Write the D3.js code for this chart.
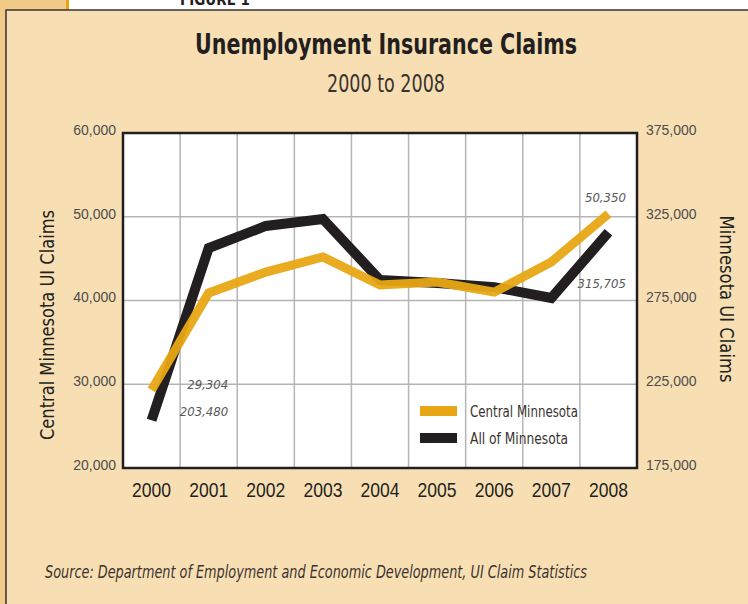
<!DOCTYPE html>
<html>
<head>
<meta charset="utf-8">
<script src="https://cdn.jsdelivr.net/npm/d3@7"></script>
<style>
  body { margin: 0; background: #fff; }
  svg { display: block; font-family: "DejaVu Sans Condensed", "DejaVu Sans", sans-serif; font-stretch: condensed; }
  .tick-label { fill: #4d4d4d; font-size: 14px; }
  .year-label { fill: #231f20; font-size: 21px; }
  .note { fill: #595959; font-size: 13px; font-style: italic; }
</style>
</head>
<body>
<div id="chart"></div>
<script>
const years = ["2000", "2001", "2002", "2003", "2004", "2005", "2006", "2007", "2008"];
const centralMN = [29304, 40900, 43400, 45200, 41850, 42200, 41000, 44600, 50350];
const allMN = [203480, 306300, 319500, 323700, 287200, 285400, 283000, 276500, 315705];
const leftTicks = [20000, 30000, 40000, 50000, 60000];
const rightTicks = [175000, 225000, 275000, 325000, 375000];

function renderClaims(selector) {
    const W = 748, H = 604;
    const plot = {left: 123, right: 637, top: 133, bottom: 468};

    const svg = d3.select(selector).append("svg")
        .attr("width", W)
        .attr("height", H);

    // page frame
    svg.append("rect").attr("width", W).attr("height", H).attr("fill", "#fff");
    svg.append("rect").attr("x", 0).attr("y", 0).attr("width", 66).attr("height", H).attr("fill", "#f3cb88");
    svg.append("rect").attr("x", 66).attr("y", 0).attr("width", 3).attr("height", 10).attr("fill", "#e8a317");
    svg.append("text")
        .attr("x", 215).attr("y", 5)
        .attr("text-anchor", "middle")
        .attr("fill", "#231f20")
        .style("font-size", "15px")
        .style("font-weight", "bold")
        .text("FIGURE 1");
    svg.append("rect")
        .attr("x", 6).attr("y", 10)
        .attr("width", W).attr("height", H)
        .attr("fill", "#f8dfb3")
        .attr("stroke", "#3a3330")
        .attr("stroke-width", 1.5);

    // titles
    svg.append("text")
        .attr("x", 386).attr("y", 54)
        .attr("text-anchor", "middle")
        .attr("fill", "#231f20")
        .attr("textLength", 382)
        .attr("lengthAdjust", "spacingAndGlyphs")
        .style("font-size", "28px")
        .style("font-weight", "bold")
        .text("Unemployment Insurance Claims");
    svg.append("text")
        .attr("x", 386).attr("y", 92)
        .attr("text-anchor", "middle")
        .attr("fill", "#3a3330")
        .attr("textLength", 118)
        .attr("lengthAdjust", "spacingAndGlyphs")
        .style("font-size", "25px")
        .text("2000 to 2008");

    const x = d3.scaleBand()
        .domain(years)
        .range([plot.left, plot.right])
        .padding(0);

    const yLeft = d3.scaleLinear()
        .domain([20000, 60000])
        .range([plot.bottom, plot.top]);

    const yRight = d3.scaleLinear()
        .domain([175000, 375000])
        .range([plot.bottom, plot.top]);

    svg.append("rect")
        .attr("x", plot.left).attr("y", plot.top)
        .attr("width", plot.right - plot.left)
        .attr("height", plot.bottom - plot.top)
        .attr("fill", "#fff");

    // grid
    svg.append("g")
        .selectAll("line")
        .data(leftTicks.slice(1, -1))
        .enter()
        .append("line")
        .attr("x1", plot.left).attr("x2", plot.right)
        .attr("y1", d => yLeft(d)).attr("y2", d => yLeft(d))
        .attr("stroke", "#b5b5b5")
        .attr("stroke-width", 1.5);

    svg.append("g")
        .selectAll("line")
        .data(years.slice(1))
        .enter()
        .append("line")
        .attr("x1", d => x(d)).attr("x2", d => x(d))
        .attr("y1", plot.top).attr("y2", plot.bottom)
        .attr("stroke", "#b5b5b5")
        .attr("stroke-width", 1.5);

    // axes
    const axisLeft = svg.append("g")
        .attr("transform", `translate(${plot.left - 4}, 0)`)
        .call(d3.axisLeft(yLeft).tickValues(leftTicks).tickSize(0).tickFormat(d3.format(",")));
    axisLeft.select(".domain").remove();
    axisLeft.selectAll("text").attr("class", "tick-label").attr("fill", null).attr("dy", "0.1em");

    const axisRight = svg.append("g")
        .attr("transform", `translate(${plot.right + 6}, 0)`)
        .call(d3.axisRight(yRight).tickValues(rightTicks).tickSize(0).tickFormat(d3.format(",")));
    axisRight.select(".domain").remove();
    axisRight.selectAll("text").attr("class", "tick-label").attr("fill", null).attr("dy", "0.1em");

    const axisBottom = svg.append("g")
        .attr("transform", `translate(0, ${plot.bottom + 6})`)
        .call(d3.axisBottom(x).tickSize(0));
    axisBottom.select(".domain").remove();
    axisBottom.selectAll("text")
        .attr("class", "year-label")
        .attr("fill", null)
        .attr("dy", "0.95em")
        .attr("textLength", 39)
        .attr("lengthAdjust", "spacingAndGlyphs");

    // lines
    const lineLeft = d3.line()
        .x((d, i) => x(years[i]) + x.bandwidth() / 2)
        .y(d => yLeft(d));
    const lineRight = d3.line()
        .x((d, i) => x(years[i]) + x.bandwidth() / 2)
        .y(d => yRight(d));

    svg.append("path")
        .datum(allMN)
        .attr("d", lineRight)
        .attr("fill", "none")
        .attr("stroke", "#231f20")
        .attr("stroke-width", 10)
        .attr("stroke-linejoin", "miter");

    svg.append("path")
        .datum(centralMN)
        .attr("d", lineLeft)
        .attr("fill", "none")
        .attr("stroke", "#e8a614")
        .attr("stroke-width", 9)
        .attr("stroke-linejoin", "miter")
        .attr("opacity", 0.95);

    // plot border
    svg.append("rect")
        .attr("x", plot.left).attr("y", plot.top)
        .attr("width", plot.right - plot.left)
        .attr("height", plot.bottom - plot.top)
        .attr("fill", "none")
        .attr("stroke", "#231f20")
        .attr("stroke-width", 2.5);

    // value notes
    const notes = [
        {text: d3.format(",")(centralMN[0]), x: x("2001") + 48, y: yLeft(centralMN[0]) - 1},
        {text: d3.format(",")(allMN[0]), x: x("2001") + 48, y: yRight(allMN[0]) - 4},
        {text: d3.format(",")(centralMN[8]), x: x("2008") + 46, y: yLeft(centralMN[8]) - 12},
        {text: d3.format(",")(allMN[8]), x: x("2008") + 46, y: yRight(allMN[8]) + 56}
    ];
    svg.selectAll(".note")
        .data(notes)
        .enter()
        .append("text")
        .attr("class", "note")
        .attr("x", d => d.x)
        .attr("y", d => d.y)
        .attr("text-anchor", "end")
        .text(d => d.text);

    // legend
    const legend = svg.append("g").attr("transform", "translate(420, 411)");
    const legendItems = [
        {label: "Central Minnesota", color: "#e8a614", len: 108},
        {label: "All of Minnesota", color: "#231f20", len: 98}
    ];
    legendItems.forEach((d, i) => {
        legend.append("rect")
            .attr("x", 0).attr("y", i * 27 - 5)
            .attr("width", 37).attr("height", 10)
            .attr("fill", d.color);
        legend.append("text")
            .attr("x", 50).attr("y", i * 27 + 6)
            .attr("fill", "#3a3330")
            .attr("textLength", d.len)
            .attr("lengthAdjust", "spacingAndGlyphs")
            .style("font-size", "16px")
            .text(d.label);
    });

    // axis titles
    svg.append("text")
        .attr("transform", `translate(54, 325) rotate(-90)`)
        .attr("text-anchor", "middle")
        .attr("fill", "#231f20")
        .attr("textLength", 230)
        .attr("lengthAdjust", "spacingAndGlyphs")
        .style("font-size", "20px")
        .text("Central Minnesota UI Claims");
    svg.append("text")
        .attr("transform", `translate(720, 299) rotate(90)`)
        .attr("text-anchor", "middle")
        .attr("fill", "#231f20")
        .attr("textLength", 167)
        .attr("lengthAdjust", "spacingAndGlyphs")
        .style("font-size", "20px")
        .text("Minnesota UI Claims");

    // source
    svg.append("text")
        .attr("x", 45).attr("y", 578)
        .attr("fill", "#3a3330")
        .attr("textLength", 542)
        .attr("lengthAdjust", "spacingAndGlyphs")
        .style("font-size", "17px")
        .style("font-style", "italic")
        .text("Source: Department of Employment and Economic Development, UI Claim Statistics");
}

renderClaims("#chart");
</script>
</body>
</html>
